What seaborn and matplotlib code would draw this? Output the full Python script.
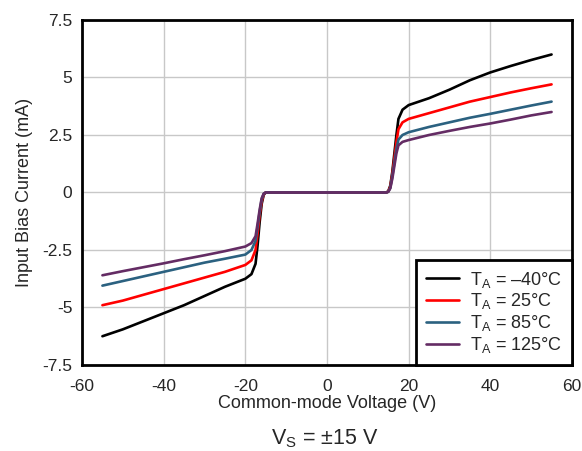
import matplotlib
matplotlib.use("Agg")
import matplotlib.pyplot as plt
import pandas as pd
import seaborn as sns

voltage = [-55, -50, -45, -40, -35, -30, -25, -20, -18.5, -17.5, -17, -16.5, -16, -15.5, -15,
           0, 14.5, 15, 15.5, 16, 16.5, 17, 17.5, 18.5, 20, 25, 30, 35, 40, 45, 50, 55]

bias_m40 = [-6.25, -5.95, -5.6, -5.25, -4.9, -4.5, -4.1, -3.75, -3.55, -3.1, -2.3, -1.3, -0.5, -0.1, 0,
            0, 0, 0.05, 0.3, 0.9, 1.7, 2.5, 3.2, 3.6, 3.8, 4.1, 4.47, 4.88, 5.22, 5.5, 5.76, 6.0]
bias_25 = [-4.9, -4.7, -4.45, -4.2, -3.95, -3.7, -3.45, -3.15, -2.95, -2.5, -1.8, -1.0, -0.4, -0.08, 0,
           0, 0, 0.04, 0.25, 0.8, 1.5, 2.2, 2.75, 3.05, 3.2, 3.45, 3.7, 3.95, 4.15, 4.35, 4.53, 4.7]
bias_85 = [-4.05, -3.85, -3.65, -3.45, -3.25, -3.05, -2.88, -2.7, -2.5, -2.1, -1.5, -0.85, -0.3, -0.06, 0,
           0, 0, 0.03, 0.2, 0.7, 1.3, 1.9, 2.3, 2.5, 2.62, 2.85, 3.05, 3.25, 3.42, 3.6, 3.78, 3.95]
bias_125 = [-3.6, -3.42, -3.25, -3.08, -2.9, -2.73, -2.55, -2.35, -2.2, -1.9, -1.35, -0.75, -0.25, -0.05, 0,
            0, 0, 0.03, 0.18, 0.6, 1.15, 1.7, 2.05, 2.2, 2.28, 2.5, 2.68, 2.85, 3.0, 3.17, 3.35, 3.5]

series_labels = [r"T$_\mathregular{A}$ = –40°C", r"T$_\mathregular{A}$ = 25°C",
                 r"T$_\mathregular{A}$ = 85°C", r"T$_\mathregular{A}$ = 125°C"]
series_colors = ["#000000", "#ff0000", "#2b6180", "#642c64"]

x_ticks = [-60, -40, -20, 0, 20, 40, 60]
y_ticks = [-7.5, -5, -2.5, 0, 2.5, 5, 7.5]
y_tick_labels = ["-7.5", "-5", "-2.5", "0", "2.5", "5", "7.5"]

frames = []
for label, values in zip(series_labels, [bias_m40, bias_25, bias_85, bias_125]):
    frames.append(pd.DataFrame({"voltage": voltage, "current": values, "series": label}))
data = pd.concat(frames, ignore_index=True)

sns.set_style("white")
plt.rcParams["font.family"] = ["Liberation Sans", "DejaVu Sans"]
plt.rcParams["axes.unicode_minus"] = False
plt.rcParams["mathtext.fontset"] = "custom"
plt.rcParams["mathtext.rm"] = "Liberation Sans"

fig = plt.figure(figsize=(5.82, 4.51), dpi=100)
ax = fig.add_axes([0.1409, 0.1907, 0.8419, 0.765])

sns.lineplot(
    data=data,
    x="voltage",
    y="current",
    hue="series",
    palette=dict(zip(series_labels, series_colors)),
    linewidth=1.9,
    sort=False,
    estimator=None,
    ax=ax,
)

ax.set_xlim(-60, 60)
ax.set_ylim(-7.5, 7.5)
ax.set_xticks(x_ticks)
ax.set_xticklabels([str(t) for t in x_ticks], fontsize=12.5)
ax.set_yticks(y_ticks)
ax.set_yticklabels(y_tick_labels, fontsize=12.5)
ax.tick_params(axis="x", length=0, pad=10)
ax.tick_params(axis="y", length=0, pad=7)
ax.grid(True, color="#c8c8c8", linewidth=1)
for spine in ax.spines.values():
    spine.set_color("black")
    spine.set_linewidth(2)

ax.set_xlabel("Common-mode Voltage (V)", fontsize=13, labelpad=1)
ax.set_ylabel("Input Bias Current (mA)", fontsize=13, labelpad=7)

legend = ax.legend(loc="lower right", borderaxespad=0, fontsize=13, frameon=True,
                   fancybox=False, handlelength=1.85, labelspacing=0.1,
                   borderpad=0.55, handletextpad=0.6)
legend.get_frame().set_edgecolor("black")
legend.get_frame().set_linewidth(2)
legend.get_frame().set_alpha(1)

fig.text(0.558, 0.015, r"V$_\mathregular{S}$ = ±15 V", ha="center", fontsize=15.5)

fig.savefig("out.png", dpi=100)
plt.close(fig)
